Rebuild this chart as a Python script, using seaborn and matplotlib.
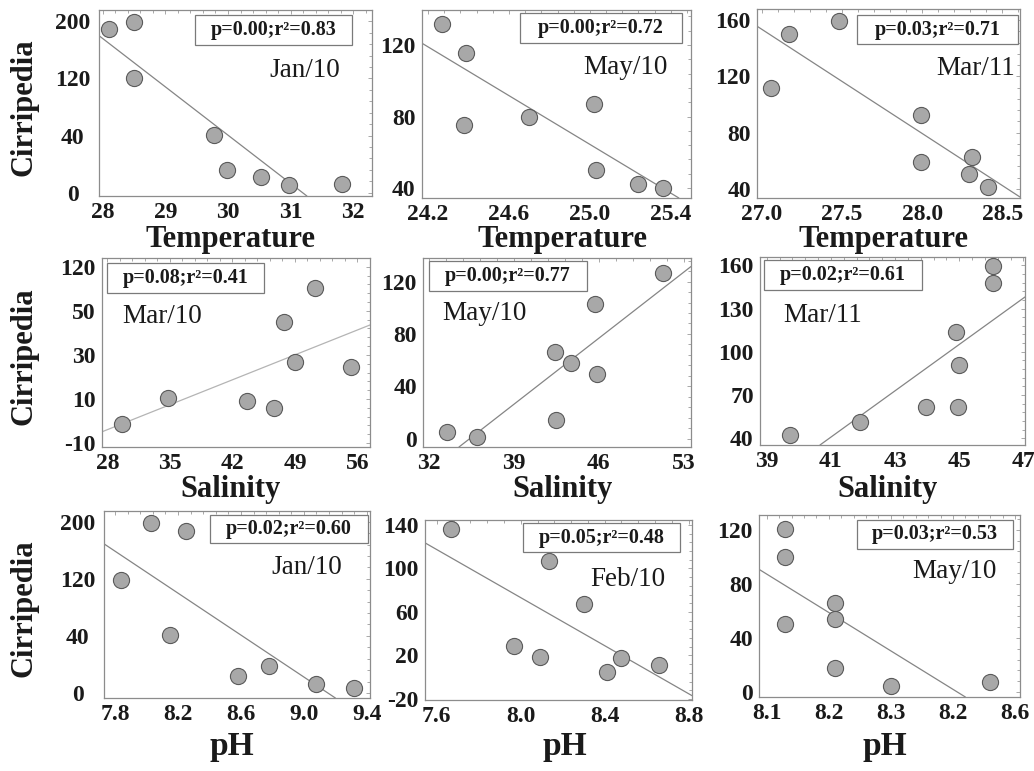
import numpy as np
import matplotlib
matplotlib.use("Agg")
import matplotlib.pyplot as plt
from matplotlib.patches import Rectangle
from matplotlib.ticker import AutoMinorLocator, FixedLocator
import seaborn as sns

# ---------------- data ----------------
# Row 1: Temperature
temp_jan10_x = [28.1, 28.5, 28.5, 29.78, 29.98, 30.52, 30.97, 31.82]
temp_jan10_y = [189, 199, 120, 41, 16, 11, 5, 6]
temp_jan10_fit_x = [27.94, 31.26]
temp_jan10_fit_y = [180, -2.4]

temp_may10_x = [24.27, 24.39, 24.38, 24.70, 25.02, 25.03, 25.24, 25.36]
temp_may10_y = [132, 115.5, 75.5, 80, 87, 50, 42, 40]
temp_may10_fit_x = [24.17, 25.44]
temp_may10_fit_y = [121, 34.4]

temp_mar11_x = [27.06, 27.17, 27.48, 27.99, 27.99, 28.31, 28.29, 28.41]
temp_mar11_y = [112, 150, 159, 92.5, 59, 63, 50.6, 41.4]
temp_mar11_fit_x = [26.97, 28.61]
temp_mar11_fit_y = [155.6, 34.3]

# Row 2: Salinity
sal_mar10_x = [29.6, 34.8, 43.6, 46.7, 47.8, 49.0, 51.2, 55.3]
sal_mar10_y = [-1.4, 10.6, 9.1, 5.9, 45, 26.8, 86.6, 24.5]
sal_mar10_fit_x = [27.4, 57.4]
sal_mar10_fit_y = [-4.9, 43.6]

sal_may10_x = [33.5, 35.9, 42.4, 43.7, 42.45, 45.7, 45.86, 51.25]
sal_may10_y = [5, 1.2, 66, 57.5, 14.6, 102.7, 49, 126.4]
sal_may10_fit_x = [34.45, 53.6]
sal_may10_fit_y = [-6.4, 131.5]

sal_mar11_x = [39.73, 41.9, 43.95, 44.97, 45.0, 44.9, 46.05, 46.05]
sal_mar11_y = [42.3, 51.5, 61.9, 61.9, 90.8, 113.8, 148, 159.5]
sal_mar11_fit_x = [40.66, 47.05]
sal_mar11_fit_y = [35.4, 138]

# Row 3: pH
ph_jan10_x = [7.84, 8.03, 8.25, 8.15, 8.58, 8.78, 9.08, 9.32]
ph_jan10_y = [118, 198, 187, 41, 12, 18.6, 6, 3.6]
ph_jan10_fit_x = [7.73, 9.2]
ph_jan10_fit_y = [169, -3.5]

ph_feb10_x = [7.668, 8.137, 8.30, 7.97, 8.09, 8.41, 8.477, 8.657]
ph_feb10_y = [136.2, 106.8, 67.6, 28.4, 18.7, 4.8, 17.8, 10.8]
ph_feb10_fit_x = [7.544, 8.816]
ph_feb10_fit_y = [123.5, -17]

ph_may10_x = [8.13, 8.13, 8.13, 8.21, 8.21, 8.21, 8.30, 8.46]
ph_may10_y = [120.7, 99.7, 50.2, 65.6, 54, 17.8, 4.2, 7.4]
ph_may10_fit_x = [8.0876, 8.42]
ph_may10_fit_y = [90.8, -3.7]

# tick values / labels
temp_jan10_xticks = [28, 29, 30, 31, 32]
temp_may10_xticks = [24.2, 24.6, 25.0, 25.4]
temp_mar11_xticks = [27.0, 27.5, 28.0, 28.5]
sal_mar10_xticks = [28, 35, 42, 49, 56]
sal_may10_xticks = [32, 39, 46, 53]
sal_mar11_xticks = [39, 41, 43, 45, 47]
ph_jan10_xticks = [7.8, 8.2, 8.6, 9.0, 9.4]
ph_feb10_xticks = [7.6, 8.0, 8.4, 8.8]
ph_may10_xticks = [8.1, 8.2, 8.3, 8.4, 8.5]
ph_may10_xticklabels = ["8.1", "8.2", "8.3", "8.2", "8.6"]

temp_jan10_yticks = [0, 40, 120, 200]
temp_may10_yticks = [40, 80, 120]
temp_mar11_yticks = [40, 80, 120, 160]
sal_mar10_yticks = [-10, 10, 30, 50, 120]
sal_may10_yticks = [0, 40, 80, 120]
sal_mar11_yticks = [40, 70, 100, 130, 160]
ph_jan10_yticks = [0, 40, 120, 200]
ph_feb10_yticks = [-20, 20, 60, 100, 140]
ph_may10_yticks = [0, 40, 80, 120]

stats_text = ["p=0.00;r²=0.83", "p=0.00;r²=0.72", "p=0.03;r²=0.71",
              "p=0.08;r²=0.41", "p=0.00;r²=0.77", "p=0.02;r²=0.61",
              "p=0.02;r²=0.60", "p=0.05;r²=0.48", "p=0.03;r²=0.53"]
month_text = ["Jan/10", "May/10", "Mar/11",
              "Mar/10", "May/10", "Mar/11",
              "Jan/10", "Feb/10", "May/10"]
xlabel_text = ["Temperature", "Salinity", "pH"]
ylabel_text = "Cirripedia"

# ---------------- style ----------------
sns.set_theme(style="white")
plt.rcParams["font.family"] = ["Liberation Serif", "DejaVu Serif"]
plt.rcParams["axes.linewidth"] = 0.9

W, H = 1034, 771
fig = plt.figure(figsize=(W / 100, H / 100), dpi=100)


def fx(px):
    return px / W


def fy(py):
    return 1 - py / H


def piecewise(ticks):
    t = np.asarray(ticks, float)
    idx = np.arange(len(t), dtype=float)

    def fwd(v):
        v = np.asarray(v, float)
        out = np.interp(v, t, idx)
        out = np.where(v < t[0], (v - t[0]) / (t[1] - t[0]), out)
        out = np.where(v > t[-1], idx[-1] + (v - t[-1]) / (t[-1] - t[-2]), out)
        return out

    def inv(p):
        p = np.asarray(p, float)
        out = np.interp(p, idx, t)
        out = np.where(p < 0, t[0] + p * (t[1] - t[0]), out)
        out = np.where(p > idx[-1], t[-1] + (p - idx[-1]) * (t[-1] - t[-2]), out)
        return out

    return fwd, inv


POINT_FACE = "#a8a8a8"
POINT_EDGE = "#5a5a5a"
LINE_COLOR = "#858585"
SPINE_COLOR = "#8c8c8c"

panels = [
    dict(x=temp_jan10_x, y=temp_jan10_y, fx_=temp_jan10_fit_x, fy_=temp_jan10_fit_y,
         xt=temp_jan10_xticks, xtl=None, yt=temp_jan10_yticks, pw=True, ycenter=True,
         box=(99, 10, 372, 196), xlim=(27.94, 32.3), ylim=(-2.4, 216),
         stat=(195, 15, 352, 45), month=(340, 77, "right"), xfmt="{:g}", lc=LINE_COLOR),
    dict(x=temp_may10_x, y=temp_may10_y, fx_=temp_may10_fit_x, fy_=temp_may10_fit_y,
         xt=temp_may10_xticks, xtl=None, yt=temp_may10_yticks, pw=False, ycenter=False,
         box=(422, 10, 691, 198), xlim=(24.17, 25.5), ylim=(34.4, 139.6),
         stat=(520, 13, 682, 43), month=(668, 74, "right"), xfmt="{:.1f}", lc=LINE_COLOR),
    dict(x=temp_mar11_x, y=temp_mar11_y, fx_=temp_mar11_fit_x, fy_=temp_mar11_fit_y,
         xt=temp_mar11_xticks, xtl=None, yt=temp_mar11_yticks, pw=False, ycenter=False,
         box=(757, 9, 1020, 198), xlim=(26.97, 28.61), ylim=(33.6, 167.8),
         stat=(857, 15, 1018, 44), month=(1015, 75, "right"), xfmt="{:.1f}", lc=LINE_COLOR),
    dict(x=sal_mar10_x, y=sal_mar10_y, fx_=sal_mar10_fit_x, fy_=sal_mar10_fit_y,
         xt=sal_mar10_xticks, xtl=None, yt=sal_mar10_yticks, pw=True, ycenter=False,
         box=(102, 258, 370, 447), xlim=(27.4, 57.4), ylim=(-11.8, 134),
         stat=(107, 263, 264, 293), month=(122, 323, "left"), xfmt="{:g}", lc="#b4b4b4"),
    dict(x=sal_may10_x, y=sal_may10_y, fx_=sal_may10_fit_x, fy_=sal_may10_fit_y,
         xt=sal_may10_xticks, xtl=None, yt=sal_may10_yticks, pw=False, ycenter=False,
         box=(423, 258, 691, 447), xlim=(31.48, 53.6), ylim=(-6.4, 138),
         stat=(429, 261, 587, 291), month=(442, 320, "left"), xfmt="{:g}", lc=LINE_COLOR),
    dict(x=sal_mar11_x, y=sal_mar11_y, fx_=sal_mar11_fit_x, fy_=sal_mar11_fit_y,
         xt=sal_mar11_xticks, xtl=None, yt=sal_mar11_yticks, pw=False, ycenter=False,
         box=(760, 257, 1025, 445), xlim=(38.79, 47.05), ylim=(35.4, 165.7),
         stat=(764, 260, 922, 290), month=(783, 322, "left"), xfmt="{:g}", lc=LINE_COLOR),
    dict(x=ph_jan10_x, y=ph_jan10_y, fx_=ph_jan10_fit_x, fy_=ph_jan10_fit_y,
         xt=ph_jan10_xticks, xtl=None, yt=ph_jan10_yticks, pw=True, ycenter=True,
         box=(104, 511, 370, 698), xlim=(7.73, 9.42), ylim=(-3.5, 215),
         stat=(210, 515, 368, 543), month=(342, 574, "right"), xfmt="{:.1f}", lc=LINE_COLOR),
    dict(x=ph_feb10_x, y=ph_feb10_y, fx_=ph_feb10_fit_x, fy_=ph_feb10_fit_y,
         xt=ph_feb10_xticks, xtl=None, yt=ph_feb10_yticks, pw=False, ycenter=False,
         box=(425, 520, 692, 700), xlim=(7.544, 8.816), ylim=(-21, 144.5),
         stat=(523, 523, 680, 552), month=(665, 586, "right"), xfmt="{:.1f}", lc=LINE_COLOR),
    dict(x=ph_may10_x, y=ph_may10_y, fx_=ph_may10_fit_x, fy_=ph_may10_fit_y,
         xt=ph_may10_xticks, xtl=ph_may10_xticklabels, yt=ph_may10_yticks, pw=False,
         ycenter=False,
         box=(759, 515, 1020, 697), xlim=(8.0876, 8.508), ylim=(-3.7, 131),
         stat=(857, 520, 1013, 549), month=(997, 578, "right"), xfmt="{:.1f}", lc=LINE_COLOR),
]

xlabel_center_y = [240, 489, 746]
TICK_FS = 17

for i, p in enumerate(panels):
    l, t, r, b = p["box"]
    ax = fig.add_axes([fx(l), fy(b), (r - l) / W, (b - t) / H])
    if p["pw"]:
        f, finv = piecewise(p["yt"])
        ax.set_yscale("function", functions=(f, finv))

    sns.lineplot(x=p["fx_"], y=p["fy_"], ax=ax, color=p["lc"], lw=0.9,
                 sort=False, estimator=None, zorder=2)
    sns.scatterplot(x=p["x"], y=p["y"], ax=ax, s=135, color=POINT_FACE,
                    edgecolor=POINT_EDGE, linewidth=0.8, zorder=3)

    ax.set_xlim(*p["xlim"])
    ax.set_ylim(*p["ylim"])
    xtl = p["xtl"] if p["xtl"] is not None else [p["xfmt"].format(v) for v in p["xt"]]
    ax.set_xticks(p["xt"], xtl, fontsize=TICK_FS, fontweight="bold")
    ax.set_yticks(p["yt"], [f"{v:g}" for v in p["yt"]], fontsize=TICK_FS,
                  fontweight="bold")
    ax.xaxis.set_minor_locator(AutoMinorLocator(5))
    if p["pw"]:
        f, finv = piecewise(p["yt"])
        pos = np.arange(-1, len(p["yt"]) + 1, 0.2)
        ax.yaxis.set_minor_locator(FixedLocator(finv(pos)))
    else:
        ax.yaxis.set_minor_locator(AutoMinorLocator(5))
    ax.tick_params(which="both", direction="in", top=True, right=True,
                   color="#9a9a9a", width=0.6, labelcolor="#1a1a1a")
    ax.tick_params(which="major", length=3)
    ax.tick_params(which="minor", length=2)
    ax.tick_params(axis="x", which="major", pad=4)
    if p["ycenter"]:
        ax.tick_params(axis="y", which="major", pad=19)
        for lbl in ax.get_yticklabels():
            lbl.set_horizontalalignment("center")
    else:
        ax.tick_params(axis="y", which="major", pad=4.5)
    for s in ax.spines.values():
        s.set_color(SPINE_COLOR)
        s.set_linewidth(0.9)
    ax.set_xlabel("")
    ax.set_ylabel("")

    # stats box
    x0, y0, x1, y1 = p["stat"]
    fig.add_artist(Rectangle((fx(x0), fy(y1)), (x1 - x0) / W, (y1 - y0) / H,
                             transform=fig.transFigure, fill=True, facecolor="white",
                             edgecolor="#7a7a7a", linewidth=0.9, zorder=5))
    fig.text(fx((x0 + x1) / 2), fy((y0 + y1) / 2), stats_text[i], ha="center",
             va="center", fontsize=14.5, fontweight="bold", color="#1a1a1a", zorder=6)

    # month label
    mx, my, mha = p["month"]
    fig.text(fx(mx), fy(my), month_text[i], ha=mha, va="baseline", fontsize=19.5,
             color="#1a1a1a", zorder=6)

    # x label
    row = i // 3
    fig.text(fx((l + r) / 2 - 5 if i % 3 != 1 else (l + r) / 2 + 6),
             fy(xlabel_center_y[row]), xlabel_text[row], ha="center", va="center",
             fontsize=22 if row < 2 else 24, fontweight="bold", color="#1a1a1a")
    if i % 3 == 0:
        fig.text(fx(24), fy((t + b) / 2 + 4), ylabel_text, ha="center", va="center",
                 rotation=90, fontsize=22, fontweight="bold", color="#1a1a1a")

fig.savefig("out.png", dpi=100)
